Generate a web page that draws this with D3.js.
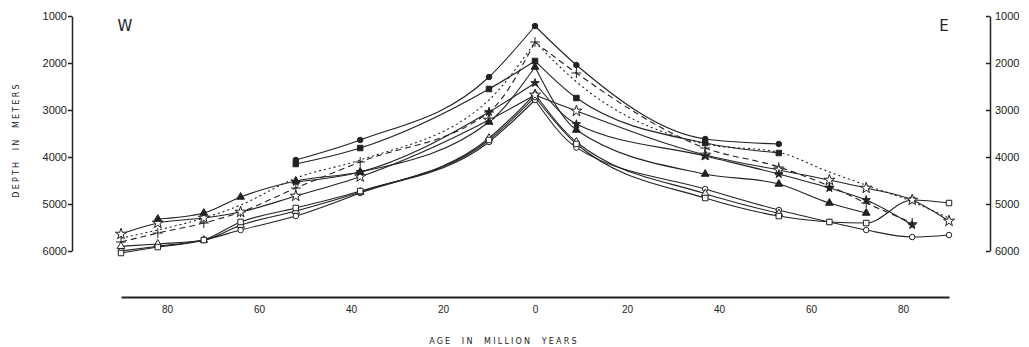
<!DOCTYPE html>
<html>
<head>
<meta charset="utf-8">
<script src="https://cdn.jsdelivr.net/npm/d3@7"></script>
<style>
  body { margin: 0; background: #fff; }
  svg { font-family: "DejaVu Sans", sans-serif; }
</style>
</head>
<body>
<svg id="chart" width="1029" height="347"></svg>
<script>
// ages (million years), west side negative
const westAges = [-90, -82, -72, -64, -52, -38, -10, 0];
const eastAges = [0, 9, 37, 53, 64, 72, 82, 90];
const xTicks = [-80, -60, -40, -20, 0, 20, 40, 60, 80];
const yTicks = [1000, 2000, 3000, 4000, 5000, 6000];

// depths in meters, null = no sample
const filledCircleW = [null, null, null, null, 4064, 3638, 2298, 1213];
const filledCircleE = [1213, 2043, 3617, 3723, null, null, null, null];
const filledSquareW = [null, null, null, null, 4149, 3809, 2553, 1957];
const filledSquareE = [1957, 2745, 3702, 3915, null, null, null, null];
const plusW = [5809, 5618, 5405, 5171, 4660, 4106, 3043, 1553];
const plusE = [1553, 2213, 3809, 4213, 4620, 4980, 5400, null];
const filledTriW = [null, 5320, 5192, 4851, 4511, 4319, 3255, 2085];
const filledTriE = [2085, 3426, 4362, 4575, 4979, 5192, null, null];
const openStarW = [5639, 5405, 5298, 5171, 4830, 4420, 3213, 2680];
const openStarE = [2680, 3021, 3957, 4277, 4490, 4660, 4915, 5362];
const filledStarW = [null, null, null, null, 4530, 4319, 3043, 2426];
const filledStarE = [2426, 3300, 3980, 4362, 4660, 4915, 5447, null];
const openSquareW = [6043, 5916, 5767, 5383, 5085, 4724, 3638, 2723];
const openSquareE = [2723, 3723, 4873, 5256, 5383, 5405, 4915, 4979];
const openCircleW = [6000, 5900, 5767, 5554, 5256, 4766, 3681, 2787];
const openCircleE = [2787, 3800, 4681, 5128, 5383, 5554, 5703, 5660];
const openTriW = [5900, 5850, 5767, 5450, 5150, 4745, 3600, 2660];
const openTriE = [2660, 3680, 4780, 5200, null, null, null, null];
const dottedW = [5724, 5554, 5300, 5022, 4450, 4064, 2787, 1553];
const dottedE = [1553, 2400, 3723, 3900, 4320, 4600, 4950, 5300];

const series = [
  { w: dottedW, e: dottedE, marker: null, dash: "2,3" },
  { w: plusW, e: plusE, marker: "plus", dash: "6,4" },
  { w: openCircleW, e: openCircleE, marker: "circle", fill: false },
  { w: openTriW, e: openTriE, marker: "triangle", fill: false },
  { w: openSquareW, e: openSquareE, marker: "square", fill: false },
  { w: openStarW, e: openStarE, marker: "star", fill: false },
  { w: filledStarW, e: filledStarE, marker: "smallstar", fill: true },
  { w: filledTriW, e: filledTriE, marker: "triangle", fill: true },
  { w: filledSquareW, e: filledSquareE, marker: "square", fill: true },
  { w: filledCircleW, e: filledCircleE, marker: "circle", fill: true }
];

const svg = d3.select("#chart");
const ink = "#222";

const x = d3.scaleLinear().domain([-90, 90]).range([121, 949]);
const y = d3.scaleLinear().domain([1000, 6000]).range([16, 251]);

// left axis
svg.append("g")
  .attr("transform", "translate(72,0)")
  .call(d3.axisLeft(y).tickValues(yTicks).tickFormat(d3.format("d")).tickSizeInner(4).tickSizeOuter(0).tickPadding(1))
  .call(g => g.selectAll("text").attr("font-size", 11).attr("fill", ink))
  .call(g => g.selectAll("line,path").attr("stroke", ink).attr("stroke-width", 1.5));

// right axis, ticks pointing inward
svg.append("g")
  .attr("transform", "translate(990,0)")
  .call(d3.axisRight(y).tickValues(yTicks).tickFormat(d3.format("d")).tickSizeInner(-4).tickSizeOuter(0).tickPadding(5))
  .call(g => g.selectAll("text").attr("font-size", 11).attr("fill", ink))
  .call(g => g.selectAll("line,path").attr("stroke", ink).attr("stroke-width", 1.5));

// bottom axis
svg.append("g")
  .attr("transform", "translate(0,297)")
  .call(d3.axisBottom(x).tickValues(xTicks).tickFormat(d => Math.abs(d)).tickSize(0).tickPadding(9))
  .call(g => g.selectAll("text").attr("font-size", 10).attr("fill", ink))
  .call(g => g.select("path").attr("stroke", ink).attr("stroke-width", 1.8));

svg.append("text")
  .attr("transform", "translate(19,140) rotate(-90)")
  .attr("text-anchor", "middle")
  .attr("font-size", 8)
  .attr("letter-spacing", 2.2)
  .style("white-space", "pre")
  .attr("fill", ink)
  .text("DEPTH  IN  METERS");

svg.append("text")
  .attr("x", 504).attr("y", 344)
  .attr("text-anchor", "middle")
  .attr("font-size", 8)
  .attr("letter-spacing", 2.2)
  .style("white-space", "pre")
  .attr("fill", ink)
  .text("AGE  IN  MILLION  YEARS");

svg.append("text").attr("x", 125).attr("y", 31).attr("text-anchor", "middle")
  .attr("font-size", 15).attr("fill", ink).text("W");
svg.append("text").attr("x", 944).attr("y", 31).attr("text-anchor", "middle")
  .attr("font-size", 15).attr("fill", ink).text("E");

const line = d3.line()
  .x(d => x(d.age))
  .y(d => y(d.depth))
  .curve(d3.curveMonotoneX);

function points(ages, vals) {
  return ages.map((a, i) => ({ age: a, depth: vals[i] })).filter(d => d.depth != null);
}

const symbolTypes = {
  circle: [d3.symbolCircle, 24],
  square: [d3.symbolSquare, 30],
  triangle: [d3.symbolTriangle, 26],
  star: [d3.symbolStar, 38],
  smallstar: [d3.symbolStar, 22],
  plus: [d3.symbolPlus || d3.symbolCross, 34]
};

const lines = svg.append("g");
const marks = svg.append("g");

series.forEach(s => {
  const halves = [points(westAges, s.w), points(eastAges, s.e)];
  halves.forEach(pts => {
    lines.append("path")
      .attr("d", line(pts))
      .attr("fill", "none")
      .attr("stroke", ink)
      .attr("stroke-width", 1.1)
      .attr("stroke-dasharray", s.dash || null);
  });
  if (!s.marker) return;
  const all = halves[0].concat(halves[1].slice(1));
  const [type, size] = symbolTypes[s.marker];
  marks.selectAll(null)
    .data(all)
    .enter()
    .append("path")
    .attr("transform", d => "translate(" + x(d.age) + "," + y(d.depth) + ")")
    .attr("d", d3.symbol().type(type).size(size))
    .attr("fill", s.marker === "plus" ? "none" : (s.fill ? ink : "#fff"))
    .attr("stroke", ink)
    .attr("stroke-width", 1);
});
</script>
</body>
</html>
